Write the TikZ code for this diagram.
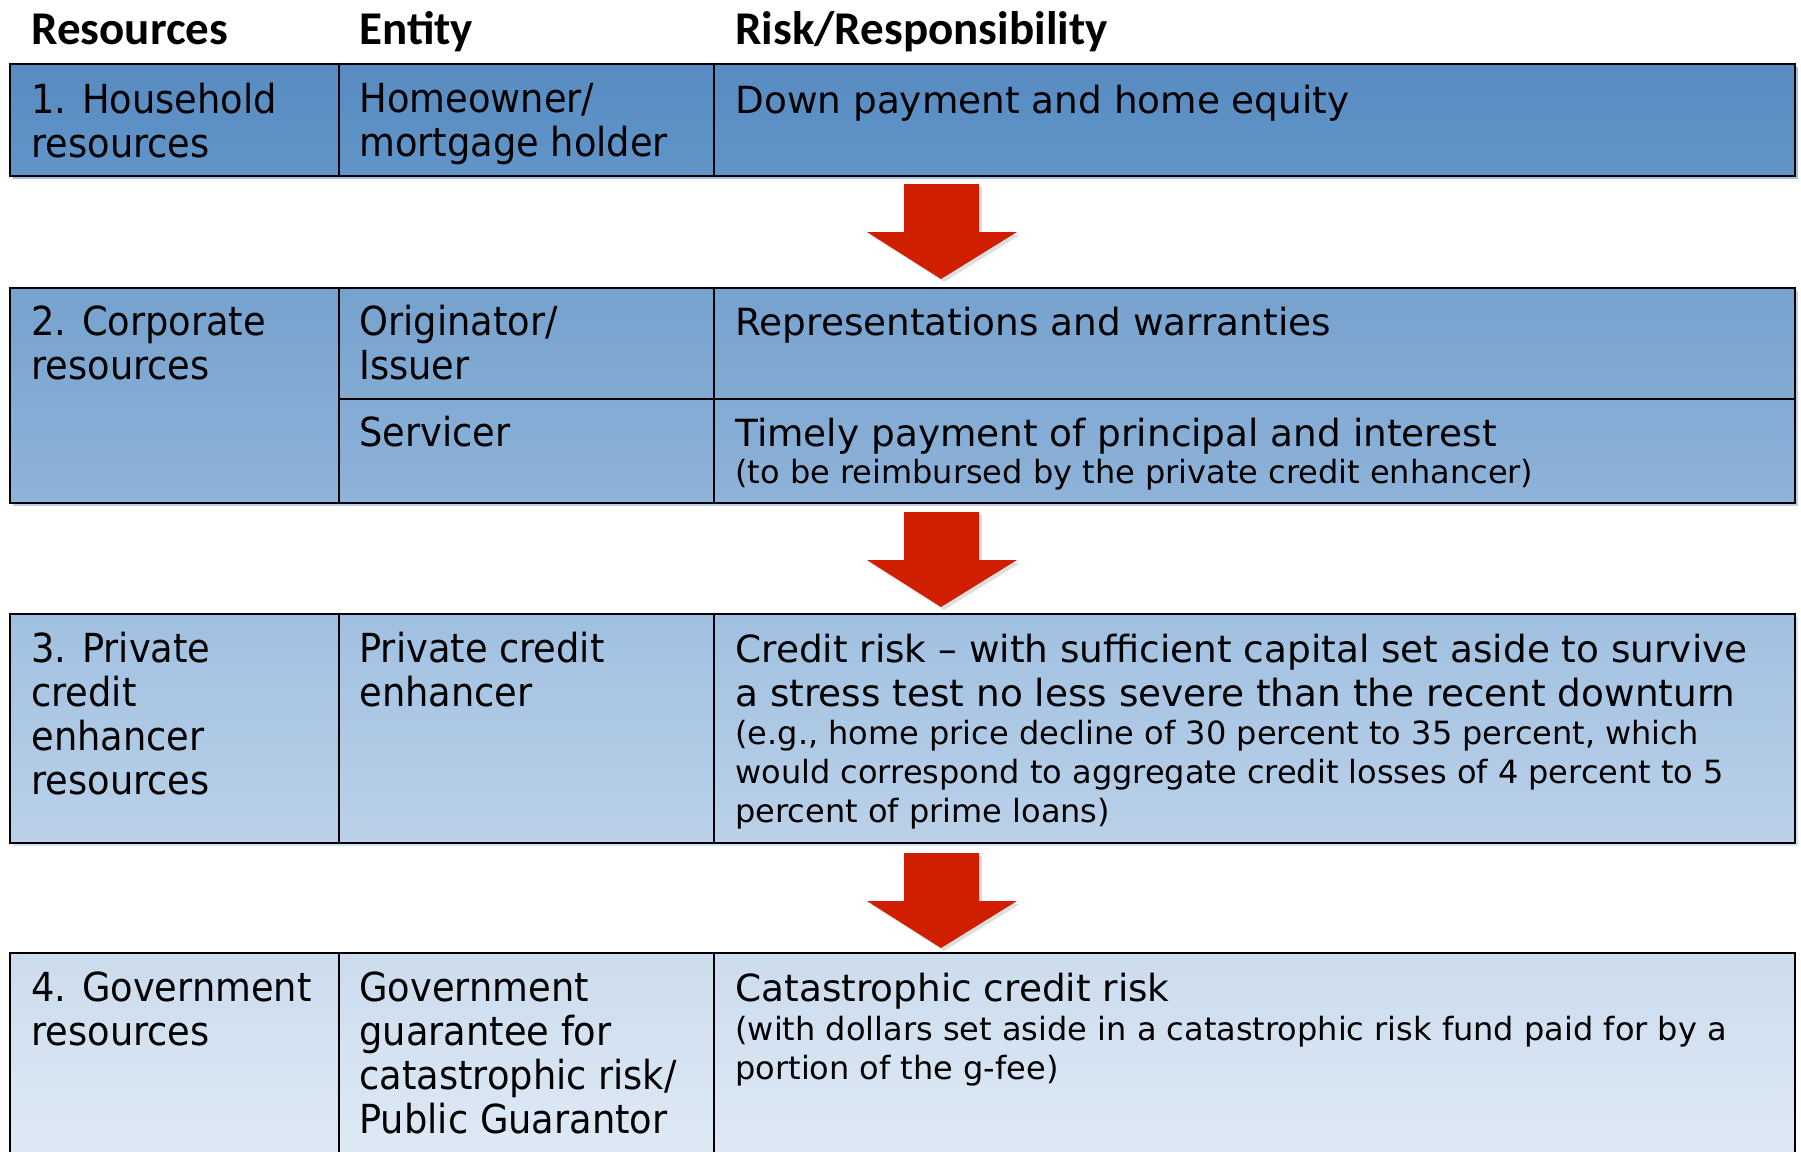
\documentclass[tikz,border=0pt]{standalone}
\usepackage{fontspec}
\setmainfont{DejaVu Sans}
\newfontfamily\headfont{Carlito}
\newfontfamily\narrowfont{DejaVu Sans}[FakeStretch=0.92]
\usetikzlibrary{shadows}

\definecolor{rowA}{RGB}{88,139,193}
\definecolor{rowAb}{RGB}{97,149,201}
\definecolor{rowB}{RGB}{117,162,206}
\definecolor{rowBb}{RGB}{143,179,217}
\definecolor{rowC}{RGB}{160,192,225}
\definecolor{rowCb}{RGB}{187,209,233}
\definecolor{rowD}{RGB}{203,220,237}
\definecolor{rowDb}{RGB}{224,234,246}
\definecolor{arrowred}{RGB}{207,30,0}

\tikzset{
  cell/.style={draw=black, line width=1.2pt},
  divider/.style={draw=black, line width=1pt},
  headtext/.style={font=\headfont\bfseries\fontsize{23.5}{26}\selectfont, inner sep=0pt, anchor=base west},
  lefttext/.style={font=\narrowfont\fontsize{20}{22}\selectfont, align=left, inner sep=0pt, anchor=north west},
  risktext/.style={font=\fontsize{18.7}{22}\selectfont, align=left, inner sep=0pt, anchor=north west},
  notetext/.style={font=\fontsize{16}{19.5}\selectfont, align=left, inner sep=0pt, anchor=north west},
}

\begin{document}
\begin{tikzpicture}[x=0.5pt, y=-0.5pt]
\useasboundingbox (0,0) rectangle (1801,1152);
\clip (0,0) rectangle (1801,1152);

% column heads
\node[headtext] (hres) at (31,44) {Resources};
\node[headtext] (hent) at (359,44) {Entity};
\node[headtext] (hrisk) at (735,44) {Risk/Responsibility};

% row bands (faint shadow, shaded fill, frame)
\fill[rowAb!60] (13,67) rectangle (1798,179);
\shade[top color=rowA, bottom color=rowAb] (10,64) rectangle (1795,176);
\draw[cell] (10,64) rectangle (1795,176);
\draw[divider] (339,64) -- (339,176) (714,64) -- (714,176);

\fill[rowBb!60] (13,291) rectangle (1798,506);
\shade[top color=rowB, bottom color=rowBb] (10,288) rectangle (1795,503);
\draw[cell] (10,288) rectangle (1795,503);
\draw[divider] (339,288) -- (339,503) (714,288) -- (714,503) (339,399) -- (1795,399);

\fill[rowCb!60] (13,617) rectangle (1798,846);
\shade[top color=rowC, bottom color=rowCb] (10,614) rectangle (1795,843);
\draw[cell] (10,614) rectangle (1795,843);
\draw[divider] (339,614) -- (339,843) (714,614) -- (714,843);

\shade[top color=rowD, bottom color=rowDb] (10,953) rectangle (1795,1170);
\draw[cell] (10,1170) -- (10,953) -- (1795,953) -- (1795,1170);
\draw[divider] (339,953) -- (339,1170) (714,953) -- (714,1170);

% block arrows between the bands
\foreach \t in {184,512,853}
  \fill[arrowred, drop shadow={opacity=0.25, shadow xshift=1.5pt, shadow yshift=-1.5pt}]
    (904,\t) -- (979,\t) -- (979,\t+48) -- (1017,\t+48) -- (941,\t+95)
    -- (867,\t+48) -- (904,\t+48) -- cycle;

% 1. household
\node[lefttext] (res1) at (31,83) {1. Household\\resources};
\node[lefttext] (ent1) at (359,83) {Homeowner/\\mortgage holder};
\node[risktext] (risk1) at (735,85) {Down payment and home equity};

% 2. corporate
\node[lefttext] (res2) at (31,305) {2. Corporate\\resources};
\node[lefttext] (ent2a) at (359,305) {Originator/\\Issuer};
\node[risktext] (risk2a) at (735,307) {Representations and warranties};
\node[lefttext] (ent2b) at (359,416) {Servicer};
\node[risktext] (risk2b) at (735,418) {Timely payment of principal and interest};
\node[notetext] (note2b) at (735,459) {(to be reimbursed by the private credit enhancer)};

% 3. private credit enhancer
\node[lefttext] (res3) at (31,632) {3. Private\\credit\\enhancer\\resources};
\node[lefttext] (ent3) at (359,632) {Private credit\\enhancer};
\node[risktext] (risk3) at (735,634) {Credit risk – with sufficient capital set aside to survive\\a stress test no less severe than the recent downturn};
\node[notetext] (note3) at (735,720) {(e.g., home price decline of 30 percent to 35 percent, which\\would correspond to aggregate credit losses of 4 percent to 5\\percent of prime loans)};

% 4. government
\node[lefttext] (res4) at (31,971) {4. Government\\resources};
\node[lefttext] (ent4) at (359,971) {Government\\guarantee for\\catastrophic risk/\\Public Guarantor};
\node[risktext] (risk4) at (735,973) {Catastrophic credit risk};
\node[notetext] (note4) at (735,1016) {(with dollars set aside in a catastrophic risk fund paid for by a\\portion of the g-fee)};
\end{tikzpicture}
\end{document}
